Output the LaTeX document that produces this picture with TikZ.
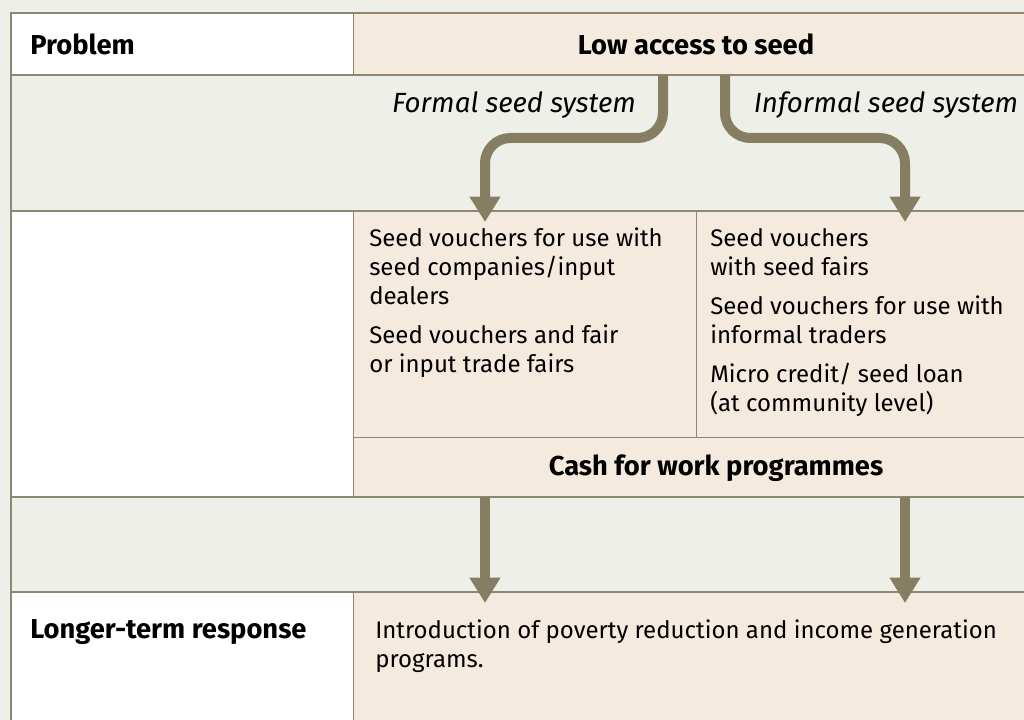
\documentclass[tikz,border=0pt]{standalone}
\usepackage{fontspec}
\setmainfont{Fira Sans}
\usetikzlibrary{arrows.meta}
\definecolor{bg}{HTML}{EFEFEA}
\definecolor{peach}{HTML}{F5EADE}
\definecolor{rule}{HTML}{8E8871}
\definecolor{arrowc}{HTML}{857E62}
\tikzset{
  rulemain/.style={draw=rule,line width=1.1pt},
  ruleinner/.style={draw=rule,line width=0.75pt},
  flow/.style={draw=arrowc,line width=7.5pt,rounded corners=19pt,-{Triangle[width=22pt,length=19pt]}},
  hdr/.style={font=\bfseries\fontsize{20.5}{24}\selectfont,inner sep=0pt},
  sys/.style={font=\itshape\fontsize{20.8}{24}\selectfont,inner sep=0pt,anchor=base},
  body/.style={font=\fontsize{18}{22}\selectfont,inner sep=0pt,anchor=base west},
}
\begin{document}
\begin{tikzpicture}[x=0.75pt,y=-0.75pt]
\useasboundingbox (0,0) rectangle (1024,720);
\fill[bg] (0,0) rectangle (1024,720);
% cell fills
\fill[white] (11,13) rectangle (353,75);
\fill[peach] (353,13) rectangle (1024,75);
\fill[white] (11,211) rectangle (353,497);
\fill[peach] (353,211) rectangle (1024,497);
\fill[white] (11,592) rectangle (353,720);
\fill[peach] (353,592) rectangle (1024,720);
% rules
\draw[rulemain] (11,720) -- (11,13) -- (1024,13);
\draw[rulemain] (11,75) -- (1024,75);
\draw[rulemain] (11,211) -- (1024,211);
\draw[rulemain] (11,497) -- (1024,497);
\draw[rulemain] (11,592) -- (1024,592);
\draw[ruleinner] (353,437) -- (1024,437);
\draw[ruleinner] (353,13) -- (353,75);
\draw[ruleinner] (353,211) -- (353,497);
\draw[ruleinner] (353,592) -- (353,720);
\draw[ruleinner] (696,211) -- (696,437);
% texts
\node[hdr,anchor=base west] (problem) at (30,55) {Problem};
\node[hdr,anchor=base] (low) at (696,55) {Low access to seed};
\node[sys] (formal) at (514,113) {Formal seed system};
\node[sys] (informal) at (886,113) {Informal seed system};
\node[body] (m1) at (369,247) {Seed vouchers for use with};
\node[body] (m2) at (369,276) {seed companies/input};
\node[body] (m3) at (369,305) {dealers};
\node[body] (m4) at (369,343) {Seed vouchers and fair};
\node[body] (m5) at (369,372) {or input trade fairs};
\node[body] (r1) at (710,247) {Seed vouchers};
\node[body] (r2) at (710,276) {with seed fairs};
\node[body] (r3) at (710,314) {Seed vouchers for use with};
\node[body] (r4) at (710,343) {informal traders};
\node[body] (r5) at (710,382) {Micro credit/ seed loan};
\node[body] (r6) at (710,411) {(at community level)};
\node[hdr,anchor=base] (cash) at (716,475) {Cash for work programmes};
\node[hdr,anchor=base west] (longer) at (30,638) {Longer-term response};
\node[body] (intro1) at (375,638) {Introduction of poverty reduction and income generation};
\node[body] (intro2) at (375,667) {programs.};
% arrows
\coordinate (fsStart) at (663,75);
\coordinate (fsMid) at (574,138);
\coordinate (fsEnd) at (485,222);
\coordinate (isStart) at (725,75);
\coordinate (isMid) at (815,138);
\coordinate (isEnd) at (905,222);
\coordinate (cwA) at (485,497);
\coordinate (cwAEnd) at (485,603);
\coordinate (cwB) at (905,497);
\coordinate (cwBEnd) at (905,603);
\draw[flow] (fsStart) |- (fsMid) -| (fsEnd);
\draw[flow] (isStart) |- (isMid) -| (isEnd);
\draw[flow] (cwA) -- (cwAEnd);
\draw[flow] (cwB) -- (cwBEnd);
\end{tikzpicture}
\end{document}
